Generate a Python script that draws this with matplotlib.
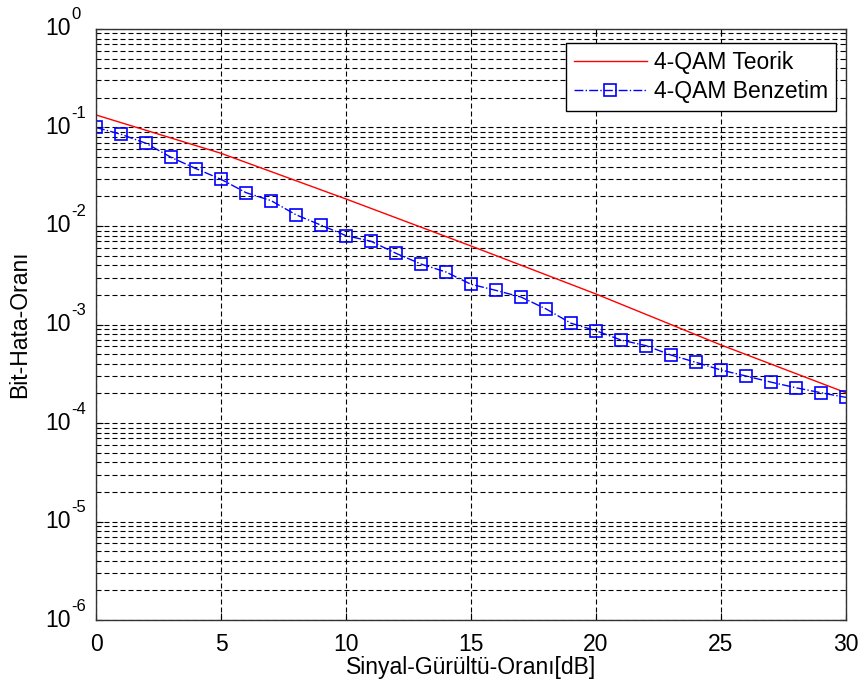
import numpy as np
import matplotlib
matplotlib.use('Agg')
import matplotlib.pyplot as plt
import matplotlib.transforms as mtransforms
from matplotlib.ticker import LogLocator, MultipleLocator, NullFormatter

plt.rcParams['font.family'] = ['Liberation Sans', 'DejaVu Sans']
plt.rcParams['font.size'] = 16

# values
snrTheory = [0, 5, 10, 15, 20, 25, 30]
berTheory = [0.134, 0.0547, 0.0188, 0.00627, 0.00204, 6.2e-4, 2.03e-4]

snrSim = list(range(31))
berSim = [0.100, 0.0853, 0.0691, 0.0498, 0.0382, 0.0298, 0.0218, 0.0181,
          0.0130, 0.0102, 0.00798, 0.0070, 0.00528, 0.00411, 0.00341,
          0.00256, 0.00222, 0.0019, 0.00144, 0.00103, 8.65e-4, 6.96e-4,
          6.1e-4, 4.9e-4, 4.13e-4, 3.45e-4, 3.0e-4, 2.6e-4, 2.28e-4,
          2.03e-4, 1.82e-4]

yExponents = [0, -1, -2, -3, -4, -5, -6]

fig = plt.figure(figsize=(8.62, 6.9), dpi=100)
ax = fig.add_axes([0.1114, 0.1014, 0.870, 0.8566])

ax.semilogy(snrTheory, berTheory, color='red', linewidth=1.0,
            label='4-QAM Teorik')
ax.semilogy(snrSim, berSim, color='blue', linestyle='-.', linewidth=1.0,
            marker='s', markersize=9, markerfacecolor='none',
            markeredgecolor='blue', markeredgewidth=1.2,
            label='4-QAM Benzetim')

ax.set_xlim(0, 30)
ax.set_ylim(1e-6, 1e0)
ax.xaxis.set_major_locator(MultipleLocator(5))
ax.set_yticks([10.0 ** e for e in yExponents])
ax.yaxis.set_minor_locator(LogLocator(base=10, subs=np.arange(2, 10), numticks=10))
ax.yaxis.set_minor_formatter(NullFormatter())
ax.set_yticklabels([])

# matlab-style y tick labels: big "10" with a big exponent
yTrans = ax.get_yaxis_transform()
for e in yExponents:
    baseTr = mtransforms.offset_copy(yTrans, fig=fig, x=-25, y=0, units='dots')
    ax.text(0, 10.0 ** e, '10', transform=baseTr, ha='right', va='center',
            fontsize=16.5)
    expTr = mtransforms.offset_copy(yTrans, fig=fig, x=-25, y=9.5, units='dots')
    ax.text(0, 10.0 ** e, str(e), transform=expTr, ha='left', va='baseline',
            fontsize=12)

gridStyle = dict(color='black', linestyle=(0, (4.5, 2.7)), linewidth=0.8)
ax.grid(True, which='major', axis='both', **gridStyle)
ax.grid(True, which='minor', axis='y', **gridStyle)

ax.tick_params(which='both', direction='in', top=True, right=True)
ax.tick_params(which='major', length=5)
ax.tick_params(which='minor', length=3)
ax.tick_params(axis='x', labelsize=16.5, pad=9)
for s in ax.spines.values():
    s.set_color('#333333')
    s.set_linewidth(1.0)

ax.set_xlabel('Sinyal-Gürültü-Oranı[dB]', fontsize=16.5, labelpad=0)
ax.set_ylabel('Bit-Hata-Oranı', fontsize=16.5)
ax.yaxis.set_label_coords(-0.086, 0.5)

leg = ax.legend(loc='upper right', bbox_to_anchor=(0.9867, 0.9763),
                fontsize=16.5, fancybox=False, framealpha=1,
                edgecolor='black', borderaxespad=0, handlelength=3.2,
                handletextpad=0.3, labelspacing=0.25, borderpad=0.35)
leg.get_frame().set_linewidth(1.0)

fig.savefig('out.png', dpi=100)
